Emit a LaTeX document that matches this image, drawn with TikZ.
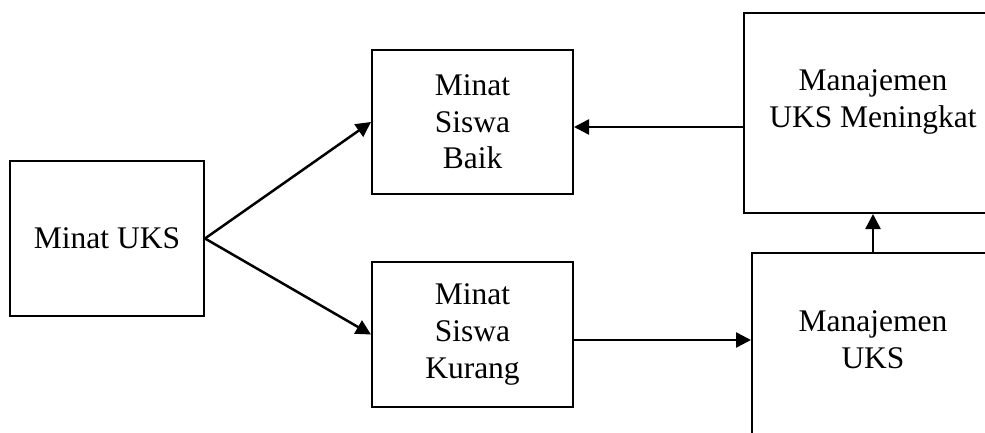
\documentclass[tikz,border=0pt]{standalone}
\usepackage{fontspec}
\setmainfont{Liberation Serif}
\usetikzlibrary{arrows.meta}

\tikzset{
  box/.style={draw, line width=2pt, align=center, inner sep=0pt,
    font=\fontsize{31.5}{36.7}\selectfont},
  txt/.style={align=center, inner sep=0pt, font=\fontsize{31.5}{36.7}\selectfont},
  arr/.style={line width=2.5pt, -{Triangle[length=15pt,width=15pt]}}
}

\begin{document}
\begin{tikzpicture}[x=1pt,y=-1pt]

\useasboundingbox (0,0) rectangle (985,433);
\clip (0,0) rectangle (985,433);

\node[box, minimum width=194pt, minimum height=155pt] (minat) at (107,238.5) {Minat UKS};
\node[box, minimum width=201pt, minimum height=144pt] (baik) at (472.5,122) {Minat\\Siswa\\Baik};
\node[box, minimum width=201pt, minimum height=145pt] (kurang) at (472.5,334.5) {Minat\\Siswa\\Kurang};

% boxes on the right run past the edge
\node[box, minimum width=258pt, minimum height=200pt] (naik) at (873,113) {};
\node[txt] (naiktxt) at (873,102) {Manajemen\\UKS Meningkat};
\node[box, minimum width=242pt, minimum height=227pt] (uks) at (873,366.5) {};
\node[txt] (ukstxt) at (873,340) {Manajemen\\UKS};

\draw[arr] (minat.east) -- (baik.west);
\draw[arr] (minat.east) -- (kurang.west);
\draw[arr] (naik.west |- 0,127) -- (baik.east |- 0,127);
\draw[arr] (kurang.east |- 0,340) -- (uks.west |- 0,340);
\draw[arr] (uks.north) -- (naik.south);

\end{tikzpicture}
\end{document}
